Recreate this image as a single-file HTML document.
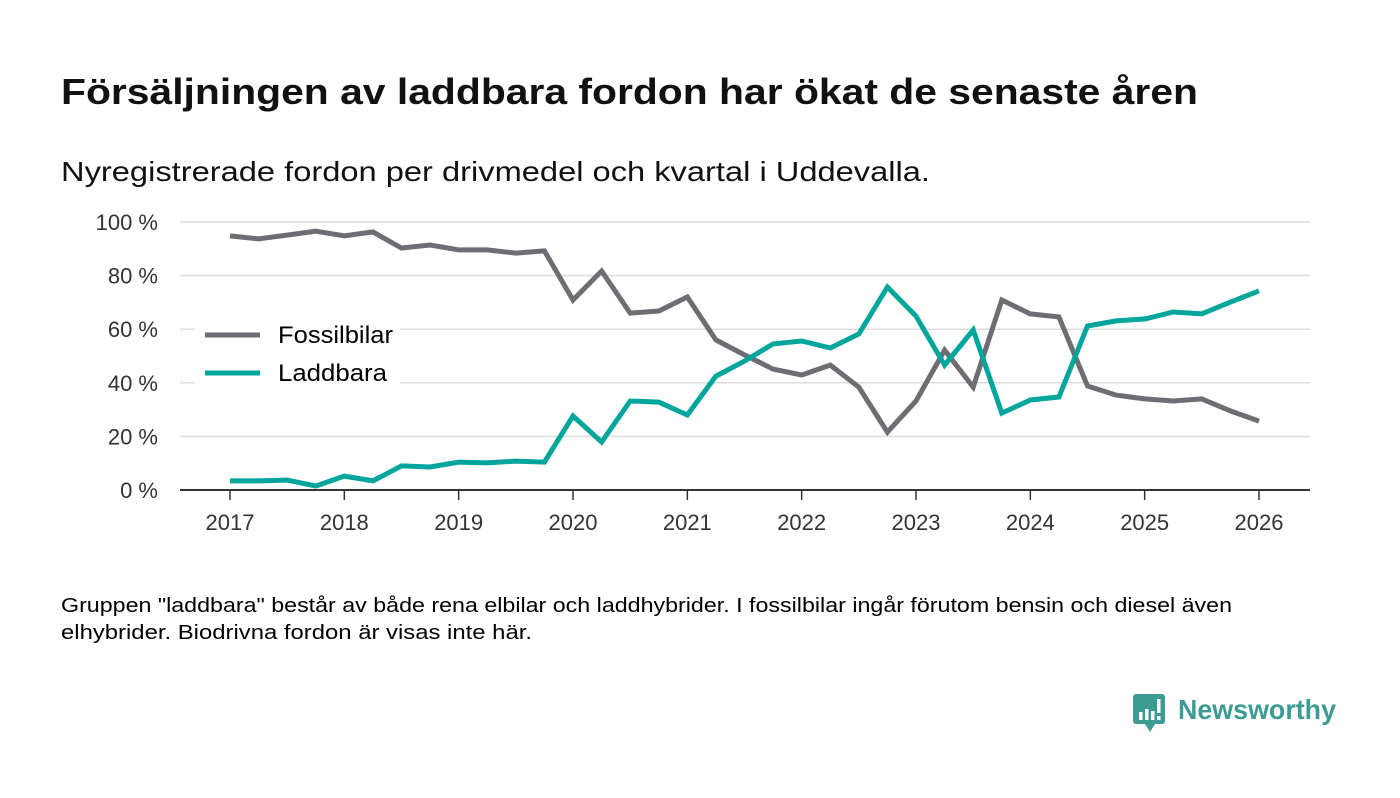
<!DOCTYPE html>
<html><head><meta charset="utf-8"><style>
body{margin:0;width:1400px;height:793px;background:#fff;font-family:"Liberation Sans","DejaVu Sans",sans-serif;color:#111;overflow:hidden}
</style></head><body>
<svg width="1400" height="793" xmlns="http://www.w3.org/2000/svg">
<text x="61" y="104" font-size="36" font-weight="bold" fill="#111" textLength="1137" lengthAdjust="spacingAndGlyphs">Försäljningen av laddbara fordon har ökat de senaste åren</text>
<text x="61" y="181" font-size="28" fill="#111" textLength="869" lengthAdjust="spacingAndGlyphs">Nyregistrerade fordon per drivmedel och kvartal i Uddevalla.</text>
<g id="grid"></g><g id="xaxis"></g><g id="lines"></g>
<g>
<rect x="195" y="318" width="205" height="72" fill="#fff"/>
<line x1="205" y1="335" x2="260" y2="335" stroke="#6e6d73" stroke-width="5"/>
<text x="278" y="343" font-size="24" textLength="115" lengthAdjust="spacingAndGlyphs">Fossilbilar</text>
<line x1="205" y1="373" x2="260" y2="373" stroke="#00a59b" stroke-width="5"/>
<text x="278" y="381" font-size="24" textLength="109" lengthAdjust="spacingAndGlyphs">Laddbara</text>
</g>
<text x="61" y="612" font-size="20" textLength="1171" lengthAdjust="spacingAndGlyphs">Gruppen "laddbara" består av både rena elbilar och laddhybrider. I fossilbilar ingår förutom bensin och diesel även</text>
<text x="61" y="639" font-size="20" textLength="471" lengthAdjust="spacingAndGlyphs">elhybrider. Biodrivna fordon är visas inte här.</text>
<g>
<rect x="1133" y="694" width="32" height="30" rx="3" fill="#3d9b93"/>
<polygon points="1145,724 1155,724 1150,732" fill="#3d9b93"/>
<rect x="1139" y="712" width="3.5" height="8" fill="#fff"/><rect x="1145" y="709" width="3.5" height="11" fill="#fff"/><rect x="1151" y="711" width="3.5" height="9" fill="#fff"/><rect x="1157" y="699" width="3.5" height="14" fill="#fff"/><rect x="1157" y="716" width="3.5" height="4" fill="#fff"/>
<text x="1178" y="719" font-size="28" font-weight="bold" fill="#3d9b93" textLength="158" lengthAdjust="spacingAndGlyphs">Newsworthy</text>
</g>
</svg>
<script>
const years=[2017,2018,2019,2020,2021,2022,2023,2024,2025,2026];
const yTicks=[0,20,40,60,80,100];
const fossil=[94.8,93.7,95.1,96.6,94.8,96.3,90.3,91.4,89.6,89.6,88.4,89.2,70.9,81.7,66.0,66.8,72.0,56.0,50.4,45.1,42.9,46.6,38.4,21.6,33.2,52.2,38.4,70.9,65.7,64.6,38.8,35.4,34.0,33.2,34.0,29.5,25.7];
const laddbara=[3.4,3.4,3.7,1.5,5.2,3.4,9.0,8.6,10.4,10.1,10.8,10.4,27.6,17.9,33.2,32.8,28.0,42.5,48.1,54.5,55.6,53.0,58.2,75.7,64.9,46.6,59.7,28.7,33.6,34.7,61.2,63.1,63.8,66.4,65.7,70.1,74.3];
const NS="http://www.w3.org/2000/svg";
const x=t=>230+(t-2017)*(1259-230)/9;
const y=v=>490-v*2.68;
function mk(tag,attrs,parent){const e=document.createElementNS(NS,tag);for(const k in attrs)e.setAttribute(k,attrs[k]);document.getElementById(parent).appendChild(e);return e;}
yTicks.forEach(v=>{
 if(v>0){const g=mk('line',{x1:180,x2:1310,y1:y(v),y2:y(v),stroke:'#dcdcdc','stroke-width':1.5},'grid');
 
 }
 const t=mk('text',{x:158,y:y(v)+8,'font-size':22,'text-anchor':'end',fill:'#333'},'grid');t.textContent=v+' %';
 
 
});
const ax=mk('line',{x1:180,x2:1310,y1:490,y2:490,stroke:'#333','stroke-width':2},'xaxis');


years.forEach(yr=>{
 const tk=mk('line',{x1:x(yr),x2:x(yr),y1:491,y2:500,stroke:'#333','stroke-width':1.5},'xaxis');
 
 
 const t=mk('text',{x:x(yr),y:530,'font-size':22,'text-anchor':'middle',fill:'#333'},'xaxis');t.textContent=yr;
 
 
});
function line(d,c,n){const p=d.map((v,i)=>x(2017+i/4).toFixed(1)+','+y(v).toFixed(1)).join(' ');
 const e=mk('polyline',{points:p,fill:'none',stroke:c,'stroke-width':5,'stroke-linejoin':'miter'},'lines');
 
 }
line(fossil,'#6e6d73','fossilbilar-line');
line(laddbara,'#00a59b','laddbara-line');
</script>
</body></html>
